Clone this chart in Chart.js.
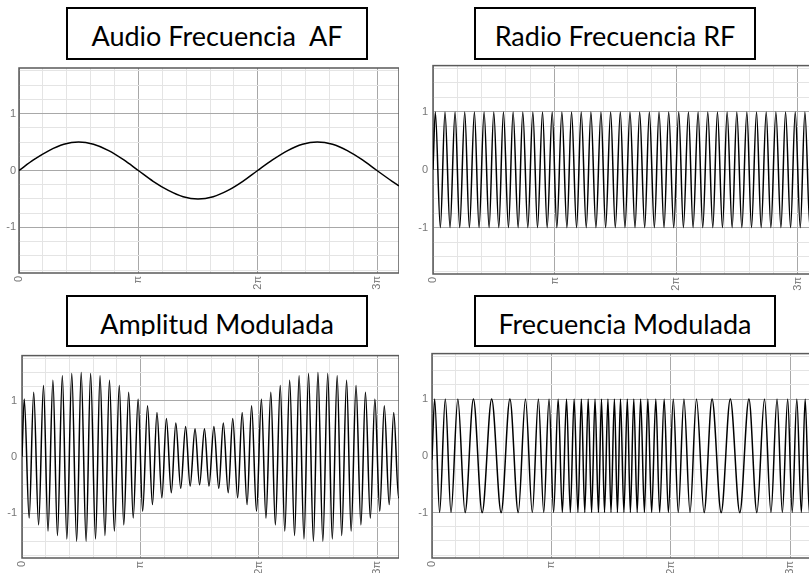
<!DOCTYPE html>
<html lang="es">
<head>
<meta charset="utf-8">
<title>AF / RF / AM / FM</title>
<script src="https://cdn.jsdelivr.net/npm/chart.js@4.4.1/dist/chart.umd.min.js"></script>
<style>
  html, body { margin: 0; padding: 0; background: #fff; }
  body { width: 809px; height: 573px; overflow: hidden; position: relative; }
  .title-box {
    position: absolute; box-sizing: border-box; border: 2px solid #000; background: #fff;
    font-family: Lato, "Open Sans", sans-serif; font-size: 27px; color: #000;
  }
  .title-box .t {
    position: absolute; left: 0; right: 0; line-height: 32px; height: 32px;
    text-align: center; white-space: pre; overflow: hidden;
  }
  canvas { position: absolute; }
</style>
</head>
<body>

<div class="title-box" style="left:66px; top:7px; width:302px; height:53px;">
  <div class="t" style="top:11px;">Audio Frecuencia  AF</div>
</div>
<div class="title-box" style="left:474px; top:7px; width:282px; height:53px;">
  <div class="t" style="top:11px;">Radio Frecuencia RF</div>
</div>
<div class="title-box" style="left:66px; top:295px; width:302px; height:52px;">
  <div class="t" style="top:11px; height:28px;">Amplitud Modulada</div>
</div>
<div class="title-box" style="left:474px; top:295px; width:302px; height:52px;">
  <div class="t" style="top:11px;">Frecuencia Modulada</div>
</div>

<canvas id="af-chart" width="399" height="235" style="left:0; top:58px;"></canvas>
<canvas id="rf-chart" width="406" height="240" style="left:414px; top:54px;"></canvas>
<canvas id="am-chart" width="399" height="234" style="left:0; top:344px;"></canvas>
<canvas id="fm-chart" width="398" height="235" style="left:414px; top:343px;"></canvas>

<script>
// tick labels
const piTickLabels = ['0', 'π', '2π', '3π'];
const yTickLabels = ['-1', '0', '1'];

// Audio frecuencia (x en radianes)
const afX = [0, 0.39, 0.79, 1.18, 1.57, 1.96, 2.36, 2.75, 3.14, 3.53, 3.93, 4.32, 4.71, 5.11,
             5.50, 5.89, 6.28, 6.68, 7.07, 7.46, 7.85, 8.25, 8.64, 9.03, 9.42, 9.82, 10];
const afY = [0, 0.19, 0.35, 0.46, 0.5, 0.46, 0.35, 0.19, 0, -0.19, -0.35, -0.46, -0.5, -0.46,
             -0.35, -0.19, 0, 0.19, 0.35, 0.46, 0.5, 0.46, 0.35, 0.19, 0, -0.19, -0.27];

// crestas y valles de la portadora (RF y AM comparten posiciones)
const carrierX = [0,
  0.06, 0.19, 0.31, 0.44, 0.57, 0.69, 0.82, 0.94, 1.07, 1.19,
  1.32, 1.45, 1.57, 1.70, 1.82, 1.95, 2.07, 2.20, 2.32, 2.45,
  2.58, 2.70, 2.83, 2.95, 3.08, 3.20, 3.33, 3.46, 3.58, 3.71,
  3.83, 3.96, 4.08, 4.21, 4.34, 4.46, 4.59, 4.71, 4.84, 4.96,
  5.09, 5.22, 5.34, 5.47, 5.59, 5.72, 5.84, 5.97, 6.09, 6.22,
  6.35, 6.47, 6.60, 6.72, 6.85, 6.97, 7.10, 7.23, 7.35, 7.48,
  7.60, 7.73, 7.85, 7.98, 8.11, 8.23, 8.36, 8.48, 8.61, 8.73,
  8.86, 8.99, 9.11, 9.24, 9.36, 9.49, 9.61, 9.74, 9.86, 9.99,
  10];

const rfY = [0,
  1, -1, 1, -1, 1, -1, 1, -1, 1, -1,
  1, -1, 1, -1, 1, -1, 1, -1, 1, -1,
  1, -1, 1, -1, 1, -1, 1, -1, 1, -1,
  1, -1, 1, -1, 1, -1, 1, -1, 1, -1,
  1, -1, 1, -1, 1, -1, 1, -1, 1, -1,
  1, -1, 1, -1, 1, -1, 1, -1, 1, -1,
  1, -1, 1, -1, 1, -1, 1, -1, 1, -1,
  1, -1, 1, -1, 1, -1, 1, -1, 1, -1,
  -0.97];

const amY = [0,
  1.03, -1.09, 1.15, -1.21, 1.27, -1.32, 1.36, -1.40, 1.44, -1.46,
  1.48, -1.50, 1.50, -1.50, 1.48, -1.46, 1.44, -1.40, 1.36, -1.32,
  1.27, -1.21, 1.15, -1.09, 1.03, -0.97, 0.91, -0.85, 0.79, -0.73,
  0.68, -0.64, 0.60, -0.56, 0.54, -0.52, 0.50, -0.50, 0.50, -0.52,
  0.54, -0.56, 0.60, -0.64, 0.68, -0.73, 0.79, -0.85, 0.91, -0.97,
  1.03, -1.09, 1.15, -1.21, 1.27, -1.32, 1.36, -1.40, 1.44, -1.46,
  1.48, -1.50, 1.50, -1.50, 1.48, -1.46, 1.44, -1.40, 1.36, -1.32,
  1.27, -1.21, 1.15, -1.09, 1.03, -0.97, 0.91, -0.85, 0.79, -0.73,
  -0.71];

// crestas y valles de la FM
const fmX = [0,
  0.07, 0.20, 0.35, 0.50, 0.68, 0.87, 1.09, 1.32, 1.57, 1.82,
  2.05, 2.27, 2.46, 2.64, 2.80, 2.94, 3.08, 3.20, 3.32, 3.43,
  3.54, 3.64, 3.74, 3.84, 3.93, 4.02, 4.11, 4.20, 4.29, 4.38,
  4.46, 4.54, 4.63, 4.71, 4.80, 4.88, 4.96, 5.05, 5.14, 5.22,
  5.31, 5.40, 5.49, 5.59, 5.68, 5.78, 5.89, 5.99, 6.11, 6.22,
  6.35, 6.48, 6.63, 6.79, 6.96, 7.16, 7.37, 7.61, 7.85, 8.10,
  8.34, 8.55, 8.75, 8.92, 9.08, 9.22, 9.36, 9.48, 9.60, 9.72,
  9.82, 9.93,
  10];

const fmY = [-0.07,
  1, -1, 1, -1, 1, -1, 1, -1, 1, -1,
  1, -1, 1, -1, 1, -1, 1, -1, 1, -1,
  1, -1, 1, -1, 1, -1, 1, -1, 1, -1,
  1, -1, 1, -1, 1, -1, 1, -1, 1, -1,
  1, -1, 1, -1, 1, -1, 1, -1, 1, -1,
  1, -1, 1, -1, 1, -1, 1, -1, 1, -1,
  1, -1, 1, -1, 1, -1, 1, -1, 1, -1,
  1, -1,
  0.68];

const X_MAX = 10;
const Y_MIN = -1.8;
const Y_MAX = 1.8;
const GRID_MAJOR = '#a8a8a8';
const GRID_MINOR = '#e4e4e4';

// marco gris alrededor del area del grafico
const framePlugin = {
    id: 'frame',
    beforeDatasetsDraw(chart) {
        const a = chart.chartArea;
        const ctx = chart.ctx;
        ctx.save();
        ctx.strokeStyle = '#5a5a5a';
        ctx.lineWidth = 1.5;
        ctx.strokeRect(a.left, a.top, a.right - a.left, a.bottom - a.top);
        ctx.restore();
    }
};

function makeChart(id, xs, ys, axisWidth, labelPad) {
    const points = xs.map((x, i) => ({ x: x, y: ys[i] }));

    return new Chart(document.getElementById(id), {
        type: 'scatter',
        data: {
            datasets: [{
                data: points,
                showLine: true,
                borderColor: '#000',
                borderWidth: 1.5,
                pointRadius: 0,
                cubicInterpolationMode: 'monotone',
                fill: false
            }]
        },
        options: {
            responsive: false,
            animation: false,
            devicePixelRatio: 1,
            layout: { padding: { top: 10, left: 0, right: 0, bottom: 0 } },
            plugins: {
                legend: { display: false },
                tooltip: { enabled: false }
            },
            scales: {
                x: {
                    type: 'linear',
                    min: 0,
                    max: X_MAX,
                    // lineas cada pi/5, etiquetas en multiplos de pi
                    afterBuildTicks: function(scale) {
                        const ticks = [];
                        for (let k = 0; k * Math.PI / 5 <= X_MAX; k++) {
                            ticks.push({ value: k * Math.PI / 5 });
                        }
                        scale.ticks = ticks;
                    },
                    afterFit: function(scale) { scale.height = 20; },
                    border: { display: false },
                    grid: {
                        drawTicks: false,
                        color: ctx => ctx.index % 5 === 0 ? GRID_MAJOR : GRID_MINOR
                    },
                    ticks: {
                        autoSkip: false,
                        minRotation: 90,
                        maxRotation: 90,
                        padding: 3,
                        color: '#777',
                        font: { family: 'Liberation Sans', size: 11 },
                        callback: (value, index) => index % 5 === 0 ? piTickLabels[index / 5] : ''
                    }
                },
                y: {
                    type: 'linear',
                    min: Y_MIN,
                    max: Y_MAX,
                    afterBuildTicks: function(scale) {
                        const ticks = [];
                        for (let v = -1.75; v <= 1.75; v += 0.25) {
                            ticks.push({ value: v });
                        }
                        scale.ticks = ticks;
                    },
                    afterFit: function(scale) { scale.width = axisWidth; },
                    border: { display: false },
                    grid: {
                        drawTicks: false,
                        color: ctx => Number.isInteger(ctx.tick.value) ? GRID_MAJOR : GRID_MINOR
                    },
                    ticks: {
                        autoSkip: false,
                        padding: labelPad,
                        color: '#777',
                        font: { family: 'Liberation Sans', size: 11 },
                        callback: value => Number.isInteger(value) ? yTickLabels[value + 1] : ''
                    }
                }
            }
        },
        plugins: [framePlugin]
    });
}

makeChart('af-chart', afX, afY, 19, 3);
makeChart('rf-chart', carrierX, rfY, 19, 5);
makeChart('am-chart', carrierX, amY, 22, 5);
makeChart('fm-chart', fmX, fmY, 18, 4);
</script>
</body>
</html>
